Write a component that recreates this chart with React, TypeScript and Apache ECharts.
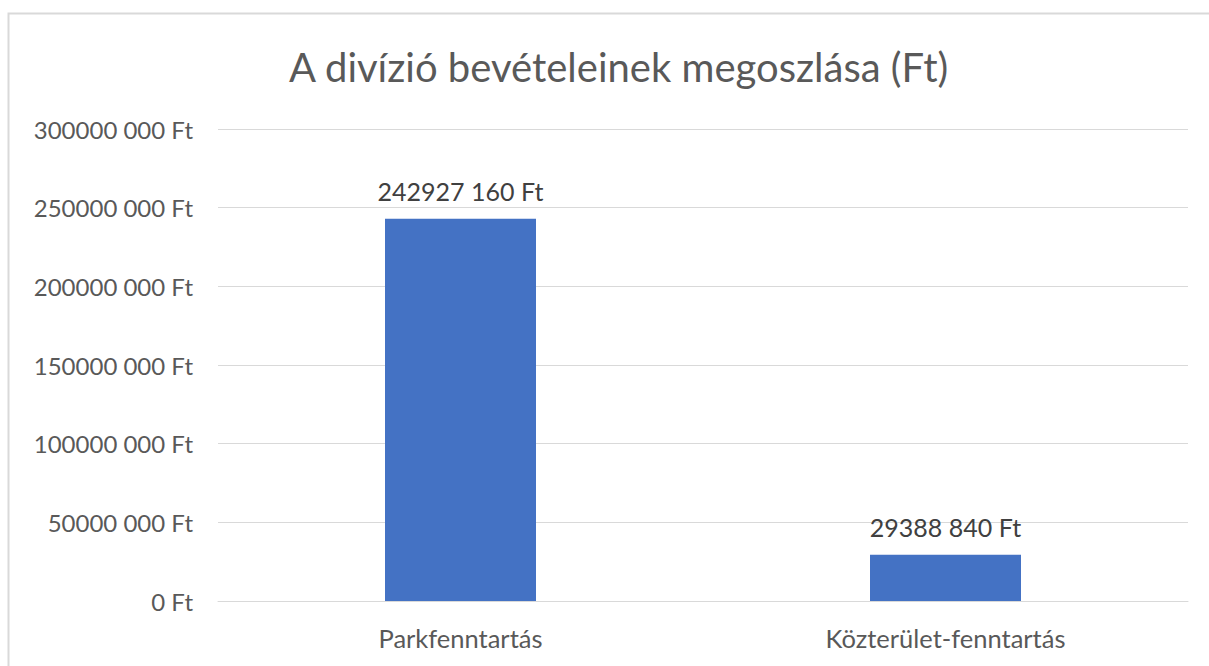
import React, { useEffect, useRef } from "react";
import * as echarts from "echarts";

const titleText = "A divízió bevételeinek megoszlása (Ft)";
const categories = ["Parkfenntartás", "Közterület-fenntartás"];
const values = [242927160, 29388840];
const valueLabels = ["242927 160 Ft", "29388 840 Ft"];
const yTickValues = [0, 50000000, 100000000, 150000000, 200000000, 250000000, 300000000];
const yTickLabels = ["0 Ft", "50000 000 Ft", "100000 000 Ft", "150000 000 Ft", "200000 000 Ft", "250000 000 Ft", "300000 000 Ft"];

const FONT = "Lato, 'Open Sans', sans-serif";
const TEXT = "#595959";

export default function App() {
  const ref = useRef<HTMLDivElement>(null);
  useEffect(() => {
    if (!ref.current) return;
    const chart = echarts.init(ref.current, null, { renderer: "svg" });
    chart.setOption({
      animation: false,
      backgroundColor: "#ffffff",
      title: {
        text: titleText,
        left: 284,
        top: 42,
        textStyle: { fontFamily: FONT, fontSize: 40, fontWeight: "normal", color: TEXT },
      },
      graphic: [
        {
          type: "rect",
          shape: { x: 8.5, y: 13.5, width: 1220, height: 700 },
          style: { fill: "none", stroke: "#d9d9d9", lineWidth: 2 },
          silent: true,
        },
      ],
      grid: { left: 218, right: 21, top: 129, bottom: 65, containLabel: false },
      xAxis: {
        type: "category",
        data: categories,
        axisLine: { show: true, lineStyle: { color: "#d9d9d9", width: 1 } },
        axisTick: { show: false },
        axisLabel: { fontFamily: FONT, fontSize: 25.5, color: TEXT, margin: 24 },
      },
      yAxis: {
        type: "value",
        min: 0,
        max: 300000000,
        interval: 50000000,
        axisLine: { show: false },
        axisTick: { show: false },
        splitLine: { lineStyle: { color: "#d9d9d9", width: 1 } },
        axisLabel: {
          fontFamily: FONT,
          fontSize: 24,
          color: TEXT,
          margin: 25,
          formatter: (v: number) => {
            const i = yTickValues.indexOf(v);
            return i >= 0 ? yTickLabels[i] : "";
          },
        },
      },
      series: [
        {
          type: "bar",
          data: values,
          barWidth: 151,
          itemStyle: { color: "#4472c4" },
          label: {
            show: true,
            position: "top",
            distance: 15,
            fontFamily: FONT,
            fontSize: 25,
            color: "#404040",
            formatter: (p: any) => valueLabels[p.dataIndex],
          },
        },
      ],
    });
    return () => chart.dispose();
  }, []);
  return (
    <div
      ref={ref}
      style={{ position: "absolute", left: 0, top: 0, width: 1209, height: 666 }}
    />
  );
}
